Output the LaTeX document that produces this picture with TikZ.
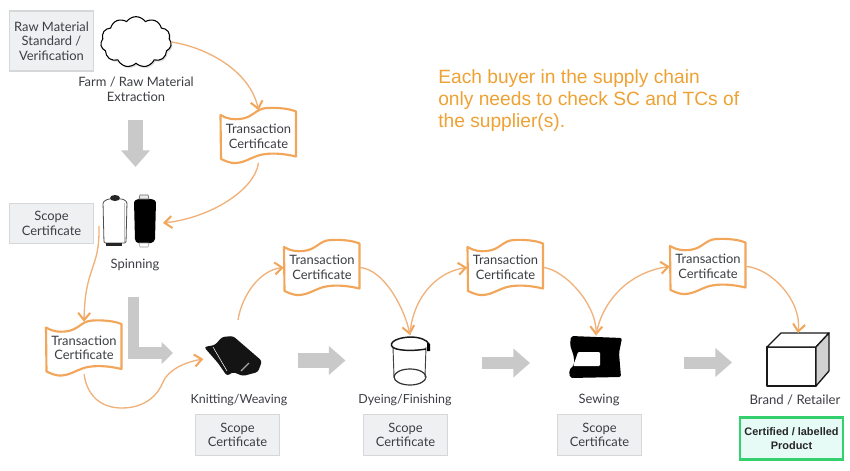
\documentclass[tikz,border=0pt]{standalone}
\usepackage{fontspec}
\setmainfont{Lato}
\newfontfamily\arialf{Liberation Sans}
\usetikzlibrary{arrows.meta,shapes.symbols,shadows}
\definecolor{labelc}{HTML}{3C3E44}
\definecolor{orangec}{HTML}{F2A65A}
\definecolor{orangel}{HTML}{F0B27A}
\definecolor{orangetx}{HTML}{EFA234}
\definecolor{boxf}{HTML}{EFF0F2}
\definecolor{boxd}{HTML}{D6D7D9}
\definecolor{grayar}{HTML}{C9C9C9}
\definecolor{greenb}{HTML}{35D06E}
\definecolor{greenf}{HTML}{E6FBF5}
\tikzset{
  x=0.75pt,y=-0.75pt,
  lbl/.style={text=labelc,font=\fontsize{9.7}{10.9}\selectfont,align=center,inner sep=0pt},
  graybox/.style={lbl,fill=boxf,draw=boxd,line width=0.9pt},
  tcnode/.style={lbl,minimum width=57pt,minimum height=39pt},
  icon/.style={inner sep=0pt,draw=none},
  flow/.style={draw=orangel,line width=1pt,-{Straight Barb[length=5.5pt,width=9pt,color=orangec,line width=1.5pt]}},
  bigarrow/.style={draw=grayar,-{Triangle[length=12.5pt,width=21pt,color=grayar]},line width=11pt},
  wave/.pic={\draw[orangec,fill=white,line width=1.6pt,line join=round]
    (-38,-19.5) .. controls (-30,-15) and (-25,-15) .. (-18.5,-15.5)
    .. controls (-5,-17) and (-3,-26) .. (8.5,-26.5)
    .. controls (20,-27) and (30,-26) .. (37.5,-23) -- (37.5,22)
    .. controls (25,19) and (12,18) .. (1.5,20.5)
    .. controls (-10,24) and (-15,29) .. (-25.5,28.5)
    .. controls (-30,28) and (-34,26) .. (-37.5,24.5) -- cycle;}
}
\begin{document}
\begin{tikzpicture}
\useasboundingbox[fill=white] (0,0) rectangle (850,471);

% gray boxes
\node[graybox,minimum width=63pt,minimum height=45pt] (rawstd) at (51.5,41) {Raw Material\\Standard /\\Verification};
\node[graybox,minimum width=63pt,minimum height=30pt] (sc1) at (51.5,223.5) {Scope\\Certificate};
\node[graybox,minimum width=63pt,minimum height=31pt] (sc2) at (237.5,435) {\raisebox{-0.7pt}{Scope}\\Certificate};
\node[graybox,minimum width=63pt,minimum height=31pt] (sc3) at (405.5,435) {\raisebox{-0.7pt}{Scope}\\Certificate};
\node[graybox,minimum width=63pt,minimum height=31pt] (sc4) at (599.5,435) {\raisebox{-0.7pt}{Scope}\\Certificate};
\node[draw=greenb,fill=greenf,line width=1.6pt,minimum width=77pt,minimum height=31.5pt,inner sep=0pt,align=center,
      font=\arialf\bfseries\fontsize{8.2}{10.2}\selectfont,text=black!85] (cert) at (791.5,438.5) {Certified / labelled\\Product};

% icon placeholders and icons
\node[cloud,cloud puffs=11,cloud puff arc=110,aspect=1.5,draw=black,fill=white,line width=0.8pt,
      minimum width=53pt,minimum height=38pt,inner sep=0pt,
      drop shadow={shadow xshift=1pt,shadow yshift=-1.2pt,opacity=.25}] (cloudn) at (136,42) {};
\node[icon,minimum width=42pt,minimum height=39pt] (spin) at (130,221) {};
\node[icon,minimum width=44pt,minimum height=30pt] (roll) at (233,359) {};
\node[icon,minimum width=30pt,minimum height=34pt] (beaker) at (410,358) {};
\node[icon,minimum width=40pt,minimum height=32pt] (sew) at (596,357) {};
\node[icon,minimum width=47pt,minimum height=40pt] (boxn) at (798,360) {};
\coordinate (rollout) at (238,320);
\coordinate (spinin) at (163,223);
\coordinate (spinout) at (99,226);

% spools
\draw[black!70,fill=white,line width=0.6pt,rounded corners=1pt] (103,202) -- (108,199) -- (123,199) -- (127,202) -- (126,243) -- (104,243) -- cycle;
\fill[black!85] (115,198) ellipse (5 and 3);
\fill[black!85] (106,243) rectangle (122,246);
\draw[black!25,line width=0.5pt] (124,203) -- (124,242);
\fill[black,rounded corners=1pt] (134,201) -- (138,199) -- (152,199) -- (156,201) -- (155,240) -- (152,243) -- (137,243) -- (135,240) -- cycle;
\draw[black!60,fill=black!8,line width=0.5pt] (139,199) -- (140,195) -- (148,195) -- (149,199) -- cycle;
\draw[black!40,fill=white,line width=0.4pt] (139,243) -- (149,243) -- (148,247) -- (140,247) -- cycle;

% fabric roll
\fill[black!92,rounded corners=2pt] (204,347) -- (215,345) -- (222,337) -- (233,336) -- (262,361) -- (258,372) -- (243,376) -- (233,372) -- (227,376) -- (218,363) -- cycle;
\draw[white,line width=0.4pt] (213,347) -- (227,371);
\draw[black!35,line width=1pt] (241,371) -- (249,363);

% beaker
\draw[black!75,line width=0.7pt] (393,347) -- (394,377) (426,347) -- (425,377);
\draw[black!80,line width=0.9pt] (410,377) ellipse (16 and 8);
\draw[black!90,line width=1.1pt] (426,349) .. controls (415,351) and (400,351) .. (394,348)
   .. controls (388,345) and (392,338) .. (410,337) .. controls (420,337) and (427,340) .. (429,344);
\fill[black] (427,343) -- (430,344) -- (430,351) -- (427,351) -- cycle;

% sewing machine
\fill[black,rounded corners=1.5pt] (571,336) -- (622,338) -- (619,353) -- (621,377) -- (570,378) -- (569,370) -- (574,365) -- (574,357) -- (570,345) -- cycle;
\fill[white,rounded corners=0.8pt] (578,352) -- (600,352) -- (600,366) -- (573,366) -- (576,358) -- cycle;

% box
\draw[black!90,fill=white,line width=1pt,line join=round] (767,347) rectangle (816,386);
\draw[black!90,fill=white,line width=1pt,line join=round] (767,347) -- (781,333) -- (829,333) -- (816,347) -- cycle;
\draw[black!90,fill=black!18,line width=1pt,line join=round] (816,347) -- (829,333) -- (829,371) -- (816,386) -- cycle;

% labels
\node[lbl] (farm) at (136,89.5) {Farm / Raw Material\\Extraction};
\node[lbl] (spinl) at (135,265) {Spinning};
\node[lbl,font=\fontsize{9.35}{10.9}\selectfont] (knitl) at (239,400) {Knitting/Weaving};
\node[lbl,font=\fontsize{9.35}{10.9}\selectfont] (dyel) at (405,400) {Dyeing/Finishing};
\node[lbl] (sewl) at (599,400) {Sewing};
\node[lbl,font=\fontsize{9.85}{10.9}\selectfont] (brandl) at (795,400) {Brand / Retailer};

% big gray arrows
\coordinate (g1a) at (135.5,120); \coordinate (g1b) at (135.5,167);
\coordinate (g2a) at (133.5,297); \coordinate (g2b) at (173,353);
\coordinate (g3a) at (298,360.5); \coordinate (g3b) at (345.5,360.5);
\coordinate (g4a) at (482,363); \coordinate (g4b) at (530,363);
\coordinate (g5a) at (684,362.5); \coordinate (g5b) at (732,362.5);
\draw[bigarrow] (g1a) -- (g1b);
\draw[bigarrow,line width=8.5pt,-{Triangle[length=8.5pt,width=16pt,color=grayar]}] (g2a) |- (g2b);
\draw[bigarrow] (g3a) -- (g3b);
\draw[bigarrow,line width=9pt] (g4a) -- (g4b);
\draw[bigarrow,line width=9pt] (g5a) -- (g5b);

% transaction certificates
\path (258.5,134.5) pic {wave};
\node[tcnode] (tc1) at (258.5,136.5) {Transaction\\Certificate};
\path (84,347) pic {wave};
\node[tcnode] (tc2) at (84,348) {Transaction\\Certificate};
\path (322,266.5) pic {wave};
\node[tcnode] (tc3) at (322,267.5) {Transaction\\Certificate};
\path (505.5,266.5) pic {wave};
\node[tcnode] (tc4) at (505.5,267.5) {Transaction\\Certificate};
\path (708,265.5) pic {wave};
\node[tcnode] (tc5) at (708,266.5) {Transaction\\Certificate};

% connectors
\draw[flow] (cloudn.east) .. controls (205,47) and (250,70) .. (tc1.north);
\draw[flow] (tc1.south) .. controls (255,190) and (210,218) .. (spinin);
\draw[flow] (spinout) .. controls (100,270) and (85,265) .. (tc2.north);
\draw[flow] (tc2.south) .. controls (88,400) and (105,408) .. (122,408) .. controls (145,408) and (158,395) .. (163,382) .. controls (168,370) and (185,362) .. (roll.west);
\draw[flow] (rollout) .. controls (242,295) and (260,270) .. (tc3.west);
\draw[flow] (tc3.east) .. controls (385,270) and (405,310) .. (beaker.north);
\draw[flow] (beaker.north) .. controls (412,300) and (435,272) .. (tc4.west);
\draw[flow] (tc4.east) .. controls (565,270) and (597,305) .. (sew.north);
\draw[flow] (sew.north) .. controls (602,300) and (630,272) .. (tc5.west);
\draw[flow] (tc5.east) .. controls (770,268) and (802,300) .. (boxn.north);

% note
\node[anchor=north west,inner sep=0pt,align=left,text=orangetx,font=\arialf\fontsize{14.4}{16.5}\selectfont] (note) at (438,69)
  {Each buyer in the supply chain\\only needs to check SC and TCs of\\the supplier(s).};
\end{tikzpicture}
\end{document}
